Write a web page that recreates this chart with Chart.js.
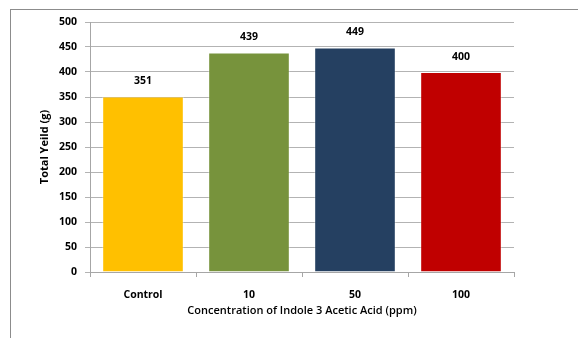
<!DOCTYPE html>
<html>
<head>
<meta charset="utf-8">
<script src="https://cdn.jsdelivr.net/npm/chart.js@4"></script>
<style>
  body { margin: 0; background: #fff; }
  .frame { position: absolute; left: 10px; top: 9px; width: 570px; height: 340px;
           border-left: 1px solid #8c8c8c; border-top: 1px solid #8c8c8c; }
  canvas { position: absolute; left: 0; top: 0; }
</style>
</head>
<body>
<div class="frame"></div>
<canvas id="yieldChart" width="578" height="338"></canvas>
<script>
const categories = ['Control', '10', '50', '100'];
const yieldValues = [351, 439, 449, 400];
const barColors = ['#ffc000', '#77933c', '#254061', '#c00000'];
const yTicks = [0, 50, 100, 150, 200, 250, 300, 350, 400, 450, 500];

const fontFamily = '"Open Sans", Lato, sans-serif';

// value labels sitting above each bar
const barValueLabels = {
  id: 'barValueLabels',
  afterDatasetsDraw(chart) {
    const ctx = chart.ctx;
    const meta = chart.getDatasetMeta(0);
    ctx.save();
    ctx.font = 'bold 10.5px ' + fontFamily;
    ctx.fillStyle = '#000';
    ctx.textAlign = 'center';
    ctx.textBaseline = 'middle';
    meta.data.forEach((bar, i) => {
      ctx.fillText(String(yieldValues[i]), bar.x, bar.y - 15);
    });
    ctx.restore();
  },
};

const ctx = document.getElementById('yieldChart').getContext('2d');
const yieldChart = new Chart(ctx, {
  type: 'bar',
  data: {
    labels: categories,
    datasets: [{
      data: yieldValues,
      backgroundColor: barColors,
      borderColor: 'rgba(255,255,255,0.35)',
      borderWidth: 1,
      barPercentage: 0.77,
      categoryPercentage: 1.0,
    }],
  },
  options: {
    responsive: false,
    animation: false,
    events: [],
    layout: {
      padding: { left: 30, top: 22, right: 64, bottom: 20 },
    },
    plugins: {
      legend: { display: false },
      tooltip: { enabled: false },
    },
    scales: {
      x: {
        afterFit(scale) { scale.height = 338 - 272 - 20; },
        grid: {
          drawOnChartArea: false,
          drawTicks: true,
          tickLength: 5,
          color: '#a6a6a6',
          offset: true,
        },
        border: { color: '#a6a6a6' },
        ticks: {
          color: '#000',
          padding: 12,
          font: { family: fontFamily, size: 10.5, weight: 'bold' },
        },
        title: {
          display: true,
          text: 'Concentration of Indole 3 Acetic Acid (ppm)',
          color: '#000',
          padding: { top: 0, bottom: 1 },
          font: { family: fontFamily, size: 11, weight: '600' },
        },
      },
      y: {
        min: 0,
        max: 500,
        afterFit(scale) { scale.width = 90 - 30; },
        afterBuildTicks(scale) { scale.ticks = yTicks.map((v) => ({ value: v })); },
        grid: {
          color: '#b3b3b3',
          tickLength: 5,
        },
        border: { color: '#a6a6a6' },
        ticks: {
          color: '#000',
          padding: 8,
          font: { family: fontFamily, size: 10.5, weight: 'bold' },
        },
        title: {
          display: true,
          text: 'Total Yeild (g)',
          color: '#000',
          padding: { top: 8, bottom: 0 },
          font: { family: fontFamily, size: 11, weight: 'bold' },
        },
      },
    },
  },
  plugins: [barValueLabels],
});
</script>
</body>
</html>
